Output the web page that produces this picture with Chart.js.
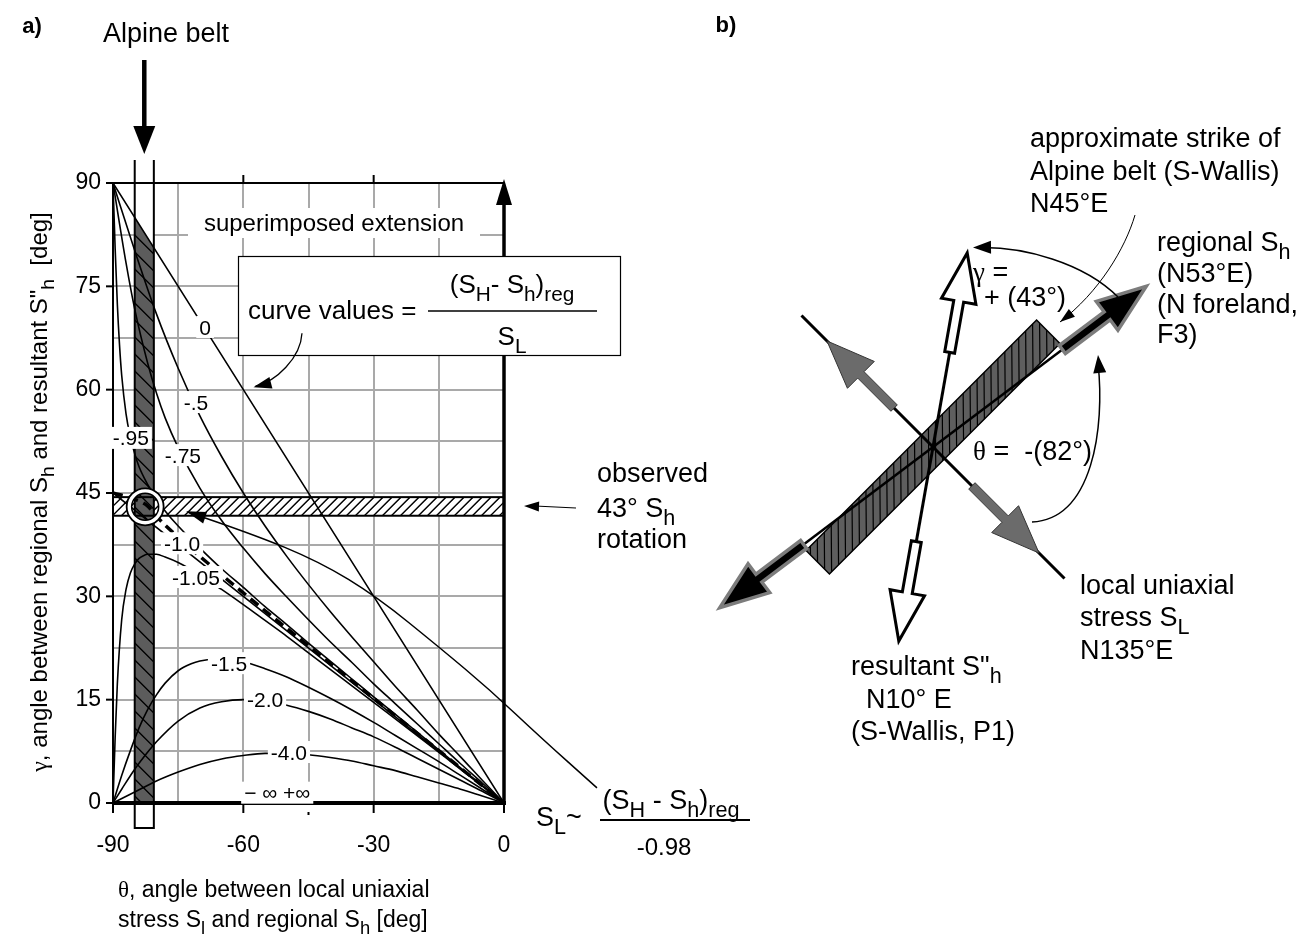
<!DOCTYPE html>
<html><head><meta charset="utf-8">
<script src="https://cdn.jsdelivr.net/npm/chart.js@4.4.1/dist/chart.umd.min.js"></script>
<style>
html,body{margin:0;padding:0;background:#fff;}
#wrap{position:relative;width:1305px;height:936px;background:#fff;}
#ca{position:absolute;left:0;top:0;}
#cb{position:absolute;left:700px;top:0;}
</style></head><body>
<div id="wrap"><canvas id="ca" width="1305" height="936"></canvas><canvas id="cb" width="605" height="936"></canvas></div>
<script>
// ---------- DATA (panel a) : [theta, gamma] ----------
const thetaTickLabels = [-90, -60, -30, 0];
const gammaTickLabels = [0, 15, 30, 45, 60, 75, 90];
const curve0    = [[-90,90],[-60,60],[-30,30],[0,0]];
const curveM050 = [[-90,90],[-85,80.2],[-80,71.0],[-75,63.1],[-70,56.2],[-65,50.3],[-60,45.0],[-55,40.2],[-50,35.8],[-45,31.7],[-40,27.8],[-35,24.1],[-30,20.5],[-25,16.9],[-20,13.5],[-15,10.0],[-10,6.7],[-5,3.3],[0,0]];
const curveM075 = [[-90,90],[-87,78.4],[-85,71.7],[-82,63.8],[-80,59.5],[-78,55.9],[-75,51.6],[-70,45.7],[-65,41.0],[-60,37.0],[-55,33.3],[-50,29.9],[-45,26.6],[-40,23.4],[-35,20.4],[-30,17.3],[-25,14.4],[-20,11.5],[-15,8.6],[-10,5.7],[-5,2.9],[0,0]];
const curveM095 = [[-90,90],[-89.5,80.4],[-89,72.4],[-88.5,66.5],[-88,62.1],[-87,56.5],[-86,53.1],[-85,50.7],[-84,48.8],[-82,46.2],[-80,44.1],[-78,42.4],[-75,40.2],[-70,37.0],[-65,34.0],[-60,31.3],[-55,28.5],[-50,25.9],[-45,23.2],[-40,20.6],[-35,18.0],[-30,15.4],[-20,10.3],[-10,5.1],[0,0]];
const curveM098 = [[-90,45],[-86,44.3],[-82,43.1],[-80,41.6],[-75,38.6],[-70,35.8],[-60,30.5],[-45,22.8],[-30,15.2],[-15,7.6],[0,0]];
const curveM100 = [[-90,45],[-60,30],[-30,15],[0,0]];
const curveM105 = [[-90,0],[-89.5,9.6],[-89,17.3],[-88,26.6],[-87,31.0],[-86,33.4],[-85,34.7],[-84,35.5],[-83,35.9],[-82,36.1],[-80,36.1],[-78,35.7],[-75,34.9],[-70,33.1],[-65,31.0],[-60,28.8],[-55,26.5],[-50,24.2],[-45,21.8],[-40,19.4],[-35,17.0],[-30,14.6],[-20,9.8],[-10,4.9],[0,0]];
const curveM150 = [[-90,0],[-88,4.0],[-86,7.6],[-84,10.9],[-82,13.6],[-80,15.7],[-78,17.4],[-75,19.2],[-72,20.2],[-70,20.6],[-66,20.9],[-62,20.7],[-60,20.5],[-55,19.5],[-50,18.3],[-45,16.8],[-40,15.2],[-35,13.5],[-30,11.7],[-25,9.8],[-20,7.9],[-15,6.0],[-10,4.0],[-5,2.0],[0,0]];
const curveM200 = [[-90,0],[-88,2.0],[-85,4.9],[-82,7.4],[-80,8.9],[-75,11.9],[-70,13.8],[-65,14.7],[-60,15.0],[-55,14.8],[-50,14.2],[-45,13.3],[-40,12.2],[-35,10.9],[-30,9.6],[-25,8.1],[-20,6.5],[-15,4.9],[-10,3.3],[-5,1.7],[0,0]];
const curveM400 = [[-90,0],[-85,1.6],[-80,3.2],[-75,4.5],[-70,5.6],[-65,6.4],[-60,6.9],[-55,7.2],[-50,7.2],[-45,7.0],[-40,6.6],[-35,6.1],[-30,5.4],[-25,4.7],[-20,3.8],[-15,2.9],[-10,2.0],[-5,1.0],[0,0]];
const curveLabelTexts = ['0','-.5','-.75','-.95','-1.0','-1.05','-1.5','-2.0','-4.0','\u2212 \u221E +\u221E'];
const curveLabelTheta = [-68.8,-70.9,-73.9,-85.9,-74.1,-70.9,-63.3,-55.0,-49.5,-52.2];
const curveLabelGamma = [69.1,58.2,50.5,53.0,37.7,32.8,20.3,15.0,7.4,1.5];
const beltTheta = [-85, -80.6];
const observedBand = [41.7, 44.4];
const observedPoint = [-82.6, 43];
const pointerTheta = [-72.7,-58.5,-42.4,-29.2,-14.7,-3.2,8.3,21.4];
const pointerGamma = [42.2,39.2,35.0,29.9,22.5,16.4,9.6,2.2];
// ---------- DATA (panel b) : azimuths in degrees ----------
const resultantAzimuth = 10;
const regionalAzimuth = 53;
const localAzimuth = 135;
const strikeAzimuth = 45;

const SANS = '"Liberation Sans", Arial, Helvetica, sans-serif';
const SERIF = '"Liberation Serif", "DejaVu Serif", "Times New Roman", serif';
Chart.defaults.font.family = SANS;
Chart.defaults.color = '#000';

function fontFor(t, size){
  if (t === 'sub') return (size*0.8).toFixed(1) + 'px ' + SANS;
  if (t === 'g') return size + 'px ' + SERIF;
  if (t === 'b') return 'bold ' + size + 'px ' + SANS;
  return size + 'px ' + SANS;
}
function rich(ctx, x, yc, parts, size, align){
  const segs = parts.map(p => Array.isArray(p) ? p : [p, 'n']);
  const ws = segs.map(([s,t]) => { ctx.font = fontFor(t,size); return ctx.measureText(s).width; });
  const tot = ws.reduce((a,b)=>a+b,0);
  let cx = align === 'center' ? x - tot/2 : (align === 'right' ? x - tot : x);
  const base = yc + size*0.36;
  ctx.textAlign = 'left'; ctx.textBaseline = 'alphabetic'; ctx.fillStyle = '#000';
  segs.forEach(([s,t],i) => { ctx.font = fontFor(t,size); ctx.fillText(s, cx, base + (t === 'sub' ? size*0.3 : 0)); cx += ws[i]; });
  return tot;
}
function head(ctx, tx, ty, fx, fy, len, half){
  const a = Math.atan2(ty-fy, tx-fx);
  ctx.beginPath();
  ctx.moveTo(tx, ty);
  ctx.lineTo(tx - len*Math.cos(a) + half*Math.sin(a), ty - len*Math.sin(a) - half*Math.cos(a));
  ctx.lineTo(tx - len*Math.cos(a) - half*Math.sin(a), ty - len*Math.sin(a) + half*Math.cos(a));
  ctx.closePath(); ctx.fill();
}
function smoothPath(ctx, pts){
  ctx.beginPath(); ctx.moveTo(pts[0][0], pts[0][1]);
  for (let i = 1; i < pts.length - 1; i++){
    const mx = (pts[i][0]+pts[i+1][0])/2, my = (pts[i][1]+pts[i+1][1])/2;
    ctx.quadraticCurveTo(pts[i][0], pts[i][1], mx, my);
  }
  const n = pts.length - 1; ctx.lineTo(pts[n][0], pts[n][1]);
}

const panelA = {
  id: 'panelA',
  beforeDatasetsDraw(chart){
    const ctx = chart.ctx, xs = chart.scales.x, ys = chart.scales.y;
    const X = v => xs.getPixelForValue(v), Y = v => ys.getPixelForValue(v);
    ctx.save();
    ctx.fillStyle = '#fff'; ctx.fillRect(188, 208, 292, 30);
    // observed band
    const bx0 = X(-90), bx1 = X(0), by0 = Y(observedBand[1]), by1 = Y(observedBand[0]);
    ctx.fillRect(bx0, by0, bx1-bx0, by1-by0);
    ctx.save(); ctx.beginPath(); ctx.rect(bx0, by0, bx1-bx0, by1-by0); ctx.clip();
    ctx.strokeStyle = '#000'; ctx.lineWidth = 1.4; ctx.beginPath();
    const h = by1 - by0;
    for (let x = bx0 - h; x < bx1 + h; x += 9){ ctx.moveTo(x, by1); ctx.lineTo(x + h, by0); }
    ctx.stroke(); ctx.restore();
    // Alpine belt column
    const ax0 = X(beltTheta[0]), ax1 = X(beltTheta[1]);
    ctx.fillStyle = '#fff'; ctx.fillRect(ax0, 160, ax1-ax0, Y(0)+25-160);
    ctx.beginPath(); ctx.moveTo(ax0, Y(-beltTheta[0])); ctx.lineTo(ax1, Y(-beltTheta[1])); ctx.lineTo(ax1, Y(0)); ctx.lineTo(ax0, Y(0)); ctx.closePath();
    ctx.fillStyle = '#5c5c5c'; ctx.fill();
    ctx.save(); ctx.clip();
    ctx.strokeStyle = '#000'; ctx.lineWidth = 1.4; ctx.beginPath();
    for (let y = 150; y < 830; y += 17){ ctx.moveTo(ax0, y); ctx.lineTo(ax1, y + (ax1-ax0)); }
    ctx.stroke(); ctx.restore();
    ctx.strokeStyle = '#000'; ctx.lineWidth = 2;
    ctx.beginPath(); ctx.moveTo(ax0, 160); ctx.lineTo(ax0, Y(0)+25); ctx.lineTo(ax1, Y(0)+25); ctx.lineTo(ax1, 160); ctx.stroke();
    ctx.lineWidth = 2; ctx.strokeRect(bx0, by0, bx1-bx0, by1-by0);
    ctx.restore();
  },
  afterDatasetsDraw(chart){
    const ctx = chart.ctx, xs = chart.scales.x, ys = chart.scales.y;
    const X = v => xs.getPixelForValue(v), Y = v => ys.getPixelForValue(v);
    ctx.save();
    ctx.strokeStyle = '#000'; ctx.fillStyle = '#000';
    // axes
    const L = X(-90), R = X(0), T = Y(90), B = Y(0);
    ctx.lineWidth = 2; ctx.beginPath(); ctx.moveTo(L, T); ctx.lineTo(L, B); ctx.stroke();
    ctx.beginPath(); ctx.moveTo(L-6, T); ctx.lineTo(R, T); ctx.stroke();
    gammaTickLabels.forEach(g => { ctx.beginPath(); ctx.moveTo(L-7, Y(g)); ctx.lineTo(L, Y(g)); ctx.stroke(); });
    thetaTickLabels.forEach(t => { ctx.beginPath(); ctx.moveTo(X(t), B); ctx.lineTo(X(t), B+10); ctx.stroke(); });
    [-60, -30].forEach(t => { ctx.beginPath(); ctx.moveTo(X(t), T-8); ctx.lineTo(X(t), T); ctx.stroke(); });
    ctx.fillRect(X(-45)-1, B+9, 2, 3);
    ctx.lineWidth = 4; ctx.beginPath(); ctx.moveTo(L, B); ctx.lineTo(R+2, B); ctx.stroke();
    ctx.lineWidth = 3.5; ctx.beginPath(); ctx.moveTo(R, B+2); ctx.lineTo(R, T+10); ctx.stroke();
    head(ctx, R, T-4, R, T+30, 26, 8);
    // observed circle
    const cx = X(observedPoint[0]), cy = Y(observedPoint[1]);
    ctx.strokeStyle = '#fff'; ctx.lineWidth = 5; ctx.beginPath(); ctx.arc(cx, cy, 16, 0, 2*Math.PI); ctx.stroke();
    ctx.strokeStyle = '#000'; ctx.lineWidth = 1.8; ctx.beginPath(); ctx.arc(cx, cy, 18.5, 0, 2*Math.PI); ctx.stroke();
    ctx.lineWidth = 1.5; ctx.beginPath(); ctx.arc(cx, cy, 13.5, 0, 2*Math.PI); ctx.stroke();
    // curve labels
    curveLabelTexts.forEach((s, i) => {
      const px = X(curveLabelTheta[i]), py = Y(curveLabelGamma[i]);
      ctx.font = fontFor('n', 21);
      const w = ctx.measureText(s).width;
      ctx.fillStyle = '#fff'; ctx.fillRect(px - w/2 - 3, py - 11, w + 6, 22);
      rich(ctx, px, py, [s], 21, 'center');
    });
    // pointer to the observed point
    const pp = pointerTheta.map((t,i) => [X(t), Y(pointerGamma[i])]);
    ctx.strokeStyle = '#000'; ctx.fillStyle = '#000'; ctx.lineWidth = 1.5;
    smoothPath(ctx, pp); ctx.stroke();
    head(ctx, pp[0][0]-2, pp[0][1]-1, pp[1][0], pp[1][1], 20, 6);
    // "curve values" box
    ctx.fillStyle = '#fff'; ctx.fillRect(238, 256, 382, 99);
    ctx.strokeStyle = '#000'; ctx.lineWidth = 1.2; ctx.strokeRect(238.5, 256.5, 382, 99);
    rich(ctx, 248, 310, ['curve values ='], 26, 'left');
    ctx.lineWidth = 1.6; ctx.beginPath(); ctx.moveTo(428, 311); ctx.lineTo(597, 311); ctx.stroke();
    rich(ctx, 512, 284, ['(S', ['H','sub'], '- S', ['h','sub'], ')', ['reg','sub']], 26, 'center');
    rich(ctx, 512, 336, ['S', ['L','sub']], 26, 'center');
    // pointer from box to "0" curve
    ctx.lineWidth = 1.3;
    const q0 = [X(-46.5), Y(68.2)], q1 = [X(-46.8), Y(64.6)], q2 = [X(-52.5), Y(61.2)], q3 = [X(-57.2), Y(60.5)];
    ctx.beginPath(); ctx.moveTo(q0[0], q0[1]); ctx.bezierCurveTo(q1[0], q1[1], q2[0], q2[1], q3[0], q3[1]); ctx.stroke();
    ctx.fillStyle = '#000'; head(ctx, q3[0]-2, q3[1]+1, q2[0], q2[1], 18, 6);
    // texts
    rich(ctx, 334, 222, ['superimposed extension'], 24, 'center');
    rich(ctx, 597, 472, ['observed'], 27, 'left');
    rich(ctx, 597, 507, ['43\u00B0 S', ['h','sub']], 27, 'left');
    rich(ctx, 597, 538, ['rotation'], 27, 'left');
    ctx.lineWidth = 1.2; ctx.beginPath(); ctx.moveTo(576, 508); ctx.lineTo(535, 506); ctx.stroke();
    head(ctx, 524, 506, 576, 508, 15, 5);
    rich(ctx, 536, 816, ['S', ['L','sub'], '~'], 27, 'left');
    rich(ctx, 671, 799, ['(S', ['H','sub'], ' - S', ['h','sub'], ')', ['reg','sub']], 27, 'center');
    ctx.lineWidth = 1.8; ctx.beginPath(); ctx.moveTo(600, 820); ctx.lineTo(750, 820); ctx.stroke();
    rich(ctx, 664, 846, ['-0.98'], 24, 'center');
    // axis titles
    rich(ctx, 118, 889, [['\u03B8','g'], ', angle between local uniaxial'], 23, 'left');
    rich(ctx, 118, 919, ['stress S', ['l','sub'], ' and regional S', ['h','sub'], ' [deg]'], 23, 'left');
    ctx.save(); ctx.translate(38, 492); ctx.rotate(-Math.PI/2);
    rich(ctx, 0, 0, [['\u03B3','g'], ', angle between regional S', ['h','sub'], ' and resultant S"', ['h','sub'], '  [deg]'], 24, 'center');
    ctx.restore();
    // top labels
    rich(ctx, 32, 25, [['a)','b']], 22, 'center');
    rich(ctx, 726, 24, [['b)','b']], 22, 'center');
    rich(ctx, 166, 32, ['Alpine belt'], 27, 'center');
    ctx.lineWidth = 4.5; ctx.beginPath(); ctx.moveTo(X(-82.8), 60); ctx.lineTo(X(-82.8), 130); ctx.stroke();
    head(ctx, X(-82.8), 154, X(-82.8), 60, 28, 11);
    ctx.restore();
  }
};

const mk = (arr, extra) => Object.assign({
  data: arr.map(([x,y]) => ({x, y})), showLine: true, borderColor: '#000', borderWidth: 1.6,
  pointRadius: 0, fill: false, cubicInterpolationMode: 'monotone', tension: 0.4
}, extra || {});

new Chart(document.getElementById('ca'), {
  type: 'scatter',
  data: { datasets: [
    mk(curve0, {cubicInterpolationMode: 'default', tension: 0}),
    mk(curveM050), mk(curveM075), mk(curveM095),
    mk(curveM100, {cubicInterpolationMode: 'default', tension: 0}),
    mk(curveM098, {borderWidth: 3.5, borderDash: [10, 6]}),
    mk(curveM105), mk(curveM150), mk(curveM200), mk(curveM400)
  ]},
  options: {
    responsive: false, animation: false, events: [],
    layout: { padding: { left: 0, top: 183, right: 801, bottom: 0 } },
    plugins: { legend: { display: false }, tooltip: { enabled: false } },
    scales: {
      x: { type: 'linear', min: -90, max: 0,
        afterFit(s){ s.height = 133; },
        border: { display: false },
        grid: { color: '#a9a9a9', lineWidth: 2, drawTicks: false },
        ticks: { stepSize: 15, autoSkip: false, maxRotation: 0, padding: 29, font: { size: 23 }, color: '#000',
          callback: v => thetaTickLabels.includes(v) ? String(v) : '' } },
      y: { type: 'linear', min: 0, max: 90,
        afterFit(s){ s.width = 113; },
        border: { display: false },
        grid: { color: '#a9a9a9', lineWidth: 2, drawTicks: false },
        ticks: { stepSize: 7.5, autoSkip: false, padding: 12, font: { size: 23 }, color: '#000',
          callback: v => gammaTickLabels.includes(v) ? String(v) : '' } }
    }
  },
  plugins: [panelA]
});

// ---------- panel b ----------
const rad = Math.PI / 180;
const panelB = {
  id: 'panelB',
  afterDraw(chart){
    const ctx = chart.ctx, xs = chart.scales.x, ys = chart.scales.y;
    const P = (x, y) => [xs.getPixelForValue(x), ys.getPixelForValue(y)];
    const A = (az, r, off) => P(r*Math.sin(az*rad) + (off||0)*Math.sin((az+90)*rad), r*Math.cos(az*rad) + (off||0)*Math.cos((az+90)*rad));
    const poly = pts => { ctx.beginPath(); ctx.moveTo(pts[0][0], pts[0][1]); pts.slice(1).forEach(p => ctx.lineTo(p[0], p[1])); ctx.closePath(); };
    const line = (a, b) => { ctx.beginPath(); ctx.moveTo(a[0], a[1]); ctx.lineTo(b[0], b[1]); ctx.stroke(); };
    const arrow = (az, r0, rb, rt, sh, hh) => [A(az,r0,-sh), A(az,rb,-sh), A(az,rb,-hh), A(az,rt,0), A(az,rb,hh), A(az,rb,sh), A(az,r0,sh)];
    ctx.save();
    ctx.lineJoin = 'miter';
    // strike band
    const band = [A(strikeAzimuth,-163,-16.5), A(strikeAzimuth,163,-16.5), A(strikeAzimuth,163,16.5), A(strikeAzimuth,-163,16.5)];
    poly(band); ctx.fillStyle = '#5e5e5e'; ctx.fill();
    ctx.save(); poly(band); ctx.clip();
    ctx.strokeStyle = '#000'; ctx.lineWidth = 1.2; ctx.beginPath();
    for (let x = 80; x < 400; x += 7){ ctx.moveTo(x, 250); ctx.lineTo(x + 3, 620); }
    ctx.stroke(); ctx.restore();
    poly(band); ctx.strokeStyle = '#000'; ctx.lineWidth = 1.5; ctx.stroke();
    // lines
    ctx.strokeStyle = '#000';
    ctx.lineWidth = 3; line(A(localAzimuth,-186), A(localAzimuth,186));
    ctx.lineWidth = 2.5; line(A(regionalAzimuth,-165), A(regionalAzimuth,165));
    ctx.lineWidth = 3; line(A(resultantAzimuth,-96), A(resultantAzimuth,96));
    // local gray arrows
    [localAzimuth, localAzimuth+180].forEach(az => {
      poly(arrow(az, 55, 102, 150, 4.5, 19)); ctx.fillStyle = '#6b6b6b'; ctx.fill();
      ctx.strokeStyle = '#333'; ctx.lineWidth = 1; ctx.stroke();
    });
    // resultant hollow arrows
    [resultantAzimuth, resultantAzimuth+180].forEach(az => {
      poly(arrow(az, 96, 148, 197, 5, 17.5)); ctx.fillStyle = '#fff'; ctx.fill();
      ctx.strokeStyle = '#000'; ctx.lineWidth = 3; ctx.stroke();
    });
    // regional black arrows
    [regionalAzimuth, regionalAzimuth+180].forEach(az => {
      poly(arrow(az, 162, 218, 267, 5, 18)); ctx.fillStyle = '#000'; ctx.fill();
      ctx.strokeStyle = '#7c7c7c'; ctx.lineWidth = 3.5; ctx.stroke();
    });
    // gamma arc
    ctx.strokeStyle = '#000'; ctx.fillStyle = '#000'; ctx.lineWidth = 1.5;
    let g0 = P(185,150), g1 = P(150,185), g2 = P(90,200), g3 = P(40,199.5);
    ctx.beginPath(); ctx.moveTo(g0[0], g0[1]); ctx.bezierCurveTo(g1[0], g1[1], g2[0], g2[1], g3[0]+8, g3[1]); ctx.stroke();
    head(ctx, g3[0], g3[1], g2[0], g2[1], 18, 6.5);
    // theta arc
    let t0 = P(99,-75), t1 = P(160,-72), t2 = P(172,20), t3 = P(165,92);
    ctx.beginPath(); ctx.moveTo(t0[0], t0[1]); ctx.bezierCurveTo(t1[0], t1[1], t2[0], t2[1], t3[0], t3[1]+8); ctx.stroke();
    head(ctx, t3[0], t3[1], t2[0], t2[1], 18, 6.5);
    // strike pointer
    ctx.lineWidth = 1;
    let s0 = P(202,232), s1 = P(192,198), s2 = P(166,155), s3 = P(127,125);
    ctx.beginPath(); ctx.moveTo(s0[0], s0[1]); ctx.bezierCurveTo(s1[0], s1[1], s2[0], s2[1], s3[0], s3[1]); ctx.stroke();
    head(ctx, s3[0], s3[1], s2[0], s2[1], 15, 5);
    // texts (canvas offset 700)
    const o = 700, F = 27;
    rich(ctx, 1030-o, 137, ['approximate strike of'], F, 'left');
    rich(ctx, 1030-o, 170, ['Alpine belt (S-Wallis)'], F, 'left');
    rich(ctx, 1030-o, 202, ['N45\u00B0E'], F, 'left');
    rich(ctx, 1157-o, 241, ['regional S', ['h','sub']], F, 'left');
    rich(ctx, 1157-o, 272, ['(N53\u00B0E)'], F, 'left');
    rich(ctx, 1157-o, 303, ['(N foreland,'], F, 'left');
    rich(ctx, 1157-o, 333, ['F3)'], F, 'left');
    rich(ctx, 973-o, 271, [['\u03B3','g'], ' ='], F, 'left');
    rich(ctx, 984-o, 296, ['+ (43\u00B0)'], F, 'left');
    rich(ctx, 973-o, 450, [['\u03B8','g'], ' =  -(82\u00B0)'], F, 'left');
    rich(ctx, 1080-o, 584, ['local uniaxial'], F, 'left');
    rich(ctx, 1080-o, 616, ['stress S', ['L','sub']], F, 'left');
    rich(ctx, 1080-o, 649, ['N135\u00B0E'], F, 'left');
    rich(ctx, 851-o, 665, ['resultant S"', ['h','sub']], F, 'left');
    rich(ctx, 866-o, 698, ['N10\u00B0 E'], F, 'left');
    rich(ctx, 851-o, 730, ['(S-Wallis, P1)'], F, 'left');
    ctx.restore();
  }
};
new Chart(document.getElementById('cb'), {
  type: 'scatter',
  data: { datasets: [{ data: [] }] },
  options: {
    responsive: false, animation: false, events: [],
    layout: { padding: 0 },
    plugins: { legend: { display: false }, tooltip: { enabled: false } },
    scales: { x: { display: false, min: -233, max: 372 }, y: { display: false, min: -489, max: 447 } }
  },
  plugins: [panelB]
});
</script></body></html>
